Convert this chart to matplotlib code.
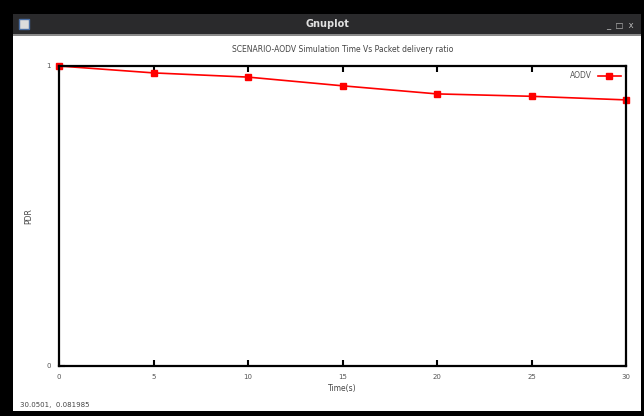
import matplotlib
matplotlib.use("Agg")
import matplotlib.pyplot as plt
from matplotlib.patches import Rectangle

# data
time_s = [0, 5, 10, 15, 20, 25, 30]
pdr = [1.0, 0.977, 0.963, 0.934, 0.907, 0.899, 0.887]
x_ticks = [0, 5, 10, 15, 20, 25, 30]
y_ticks = [0, 1]

W, H = 644, 416
fig = plt.figure(figsize=(W / 100, H / 100), dpi=100, facecolor="black")

def fx(px):
    return px / W

def fy(py):
    return 1 - py / H

# window frame: title bar and white client area
fig.patches.append(Rectangle((fx(13), fy(34)), fx(628), 20 / H, transform=fig.transFigure,
                             facecolor="#2a2a2c", edgecolor="none", zorder=0))
fig.patches.append(Rectangle((fx(13), fy(36)), fx(628), 2 / H, transform=fig.transFigure,
                             facecolor="#8a8a8a", edgecolor="none", zorder=0))
fig.patches.append(Rectangle((fx(13), fy(411)), fx(628), 375 / H, transform=fig.transFigure,
                             facecolor="white", edgecolor="none", zorder=0))
# window icon
fig.patches.append(Rectangle((fx(19), fy(29)), fx(10), 10 / H, transform=fig.transFigure,
                             facecolor="#dcdcdc", edgecolor="#4a6fa5", lw=1, zorder=1))
fig.text(fx(327), fy(24), "Gnuplot", color="#e0e0e0", fontsize=7, fontweight="bold",
         ha="center", va="center")
fig.text(fx(620), fy(25), "_  \u25a1  x", color="#bbbbbb", fontsize=6, ha="center", va="center")

# plot area
ax = fig.add_axes([fx(59), fy(366), fx(626 - 59), (366 - 66) / H])
ax.set_zorder(5)
ax.set_facecolor("white")
ax.plot(time_s, pdr, color="red", lw=1.2, marker="s", ms=4.5, label="AODV", clip_on=False)
ax.set_xlim(0, 30)
ax.set_ylim(0, 1)
ax.set_xticks(x_ticks)
ax.set_yticks(y_ticks)
ax.tick_params(direction="in", length=4, width=1.5, labelsize=5, colors="black",
               labelcolor="#555555", top=True, right=True, pad=6)
for s in ax.spines.values():
    s.set_linewidth(1.6)
ax.set_title("SCENARIO-AODV Simulation Time Vs Packet delivery ratio", fontsize=5.5,
             color="#444444", pad=10)
ax.set_xlabel("Time(s)", fontsize=5.5, color="#444444", labelpad=3)
ax.set_ylabel("PDR", fontsize=5.5, color="#444444", labelpad=9)
leg = ax.legend(loc="upper right", fontsize=5.5, frameon=False, markerfirst=False,
                handlelength=3, borderaxespad=0.3)
for t in leg.get_texts():
    t.set_color("#555555")

fig.text(fx(20), fy(405), "30.0501,  0.081985", fontsize=5, color="#444444",
         ha="left", va="center")

fig.savefig("out.png", dpi=100, facecolor="black")
